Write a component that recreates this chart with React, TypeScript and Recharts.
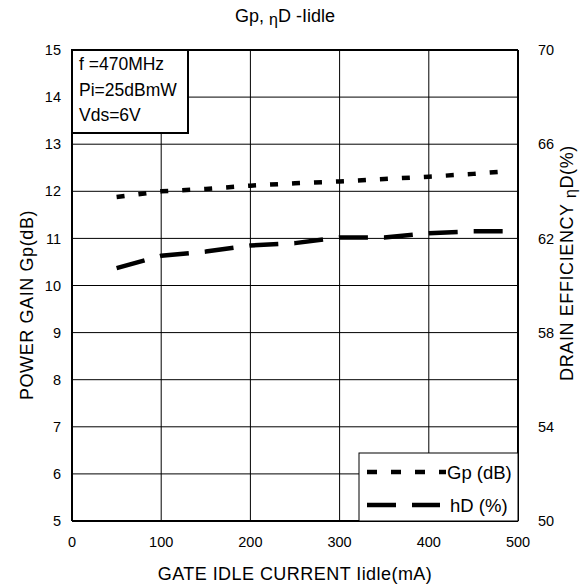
import React from 'react';
import { LineChart, Line, XAxis, YAxis, CartesianGrid, ReferenceLine } from 'recharts';

const idleCurrent = [50, 100, 150, 200, 250, 300, 350, 400, 450, 490];
const powerGain = [11.88, 12.0, 12.05, 12.12, 12.17, 12.21, 12.26, 12.31, 12.37, 12.43];
const drainEff = [60.74, 61.26, 61.44, 61.7, 61.8, 62.04, 62.04, 62.22, 62.3, 62.3];

const xTicks = [0, 100, 200, 300, 400, 500];
const gainTicks = [5, 6, 7, 8, 9, 10, 11, 12, 13, 14, 15];
const effTicks = [50, 54, 58, 62, 66, 70];

const annotationLines = ['f =470MHz', 'Pi=25dBmW', 'Vds=6V'];

const data = idleCurrent.map((x, i) => ({ x, gp: powerGain[i], eta: drainEff[i] }));

const FONT = '"Liberation Sans", Arial, sans-serif';
const tickStyle = { fill: '#000', fontSize: 14.5, fontFamily: FONT };

export default function App() {
  return (
    <div style={{ position: 'absolute', left: 0, top: 0, width: 583, height: 587, background: '#fff' }}>
      <LineChart width={583} height={587} data={data} margin={{ top: 50, right: 0, bottom: 0, left: 0 }}>
        <CartesianGrid yAxisId="left" stroke="#000" strokeWidth={1} fill="none" />
        <XAxis
          dataKey="x"
          type="number"
          domain={[0, 500]}
          ticks={xTicks}
          height={66}
          tickLine={false}
          axisLine={{ stroke: '#000', strokeWidth: 2 }}
          tick={tickStyle}
          tickMargin={10}
        />
        <YAxis
          yAxisId="left"
          orientation="left"
          domain={[5, 15]}
          ticks={gainTicks}
          width={72}
          tickLine={false}
          axisLine={{ stroke: '#000', strokeWidth: 2 }}
          tick={tickStyle}
          tickMargin={5}
          allowDataOverflow
        />
        <YAxis
          yAxisId="right"
          orientation="right"
          domain={[50, 70]}
          ticks={effTicks}
          width={65}
          tickLine={false}
          axisLine={{ stroke: '#000', strokeWidth: 2 }}
          tick={tickStyle}
          tickMargin={14}
          allowDataOverflow
        />
        <ReferenceLine yAxisId="left" y={15} stroke="#000" strokeWidth={2} />
        <Line
          yAxisId="left"
          dataKey="gp"
          type="linear"
          stroke="#000"
          strokeWidth={4.5}
          strokeDasharray="8 14"
          dot={false}
          isAnimationActive={false}
        />
        <Line
          yAxisId="right"
          dataKey="eta"
          type="linear"
          stroke="#000"
          strokeWidth={4.5}
          strokeDasharray="29 16"
          dot={false}
          isAnimationActive={false}
        />
      </LineChart>
      <svg
        width={583}
        height={587}
        style={{ position: 'absolute', left: 0, top: 0, pointerEvents: 'none' }}
        fontFamily={FONT}
      >
        <text x={285} y={22} textAnchor="middle" fontSize={18} fill="#000">
          Gp,{' '}
          <tspan fontSize={16} dy={3}>η</tspan>
          <tspan dy={-3}>D -Iidle</tspan>
        </text>
        <text x={295} y={580} textAnchor="middle" fontSize={18} letterSpacing={0.45} fill="#000">
          GATE IDLE CURRENT Iidle(mA)
        </text>
        <text x={0} y={0} transform="translate(33,305) rotate(-90)" textAnchor="middle" fontSize={18} letterSpacing={0.6} fill="#000">
          POWER GAIN Gp(dB)
        </text>
        <text x={0} y={0} transform="translate(573,263) rotate(-90)" textAnchor="middle" fontSize={18} letterSpacing={0.6} fill="#000">
          DRAIN EFFICIENCY{' '}
          <tspan fontSize={16} dy={3}>η</tspan>
          <tspan dy={-3}>D(%)</tspan>
        </text>
        <rect x={72} y={50} width={116} height={83} fill="#fff" stroke="#000" strokeWidth={2} />
        {annotationLines.map((t, i) => (
          <text key={t} x={79} y={70 + i * 25.5} fontSize={17.5} fill="#000">
            {t}
          </text>
        ))}
        <rect x={359} y={453} width={159} height={68} fill="#fff" stroke="#000" strokeWidth={1} />
        <line x1={367} y1={472} x2={446} y2={472} stroke="#000" strokeWidth={4.5} strokeDasharray="10 14" />
        <text x={447} y={478.5} fontSize={18.5} fill="#000">Gp (dB)</text>
        <line x1={367} y1={505} x2={440} y2={505} stroke="#000" strokeWidth={4.5} strokeDasharray="29 16" />
        <text x={450} y={511.5} fontSize={18.5} fill="#000">hD (%)</text>
      </svg>
    </div>
  );
}
